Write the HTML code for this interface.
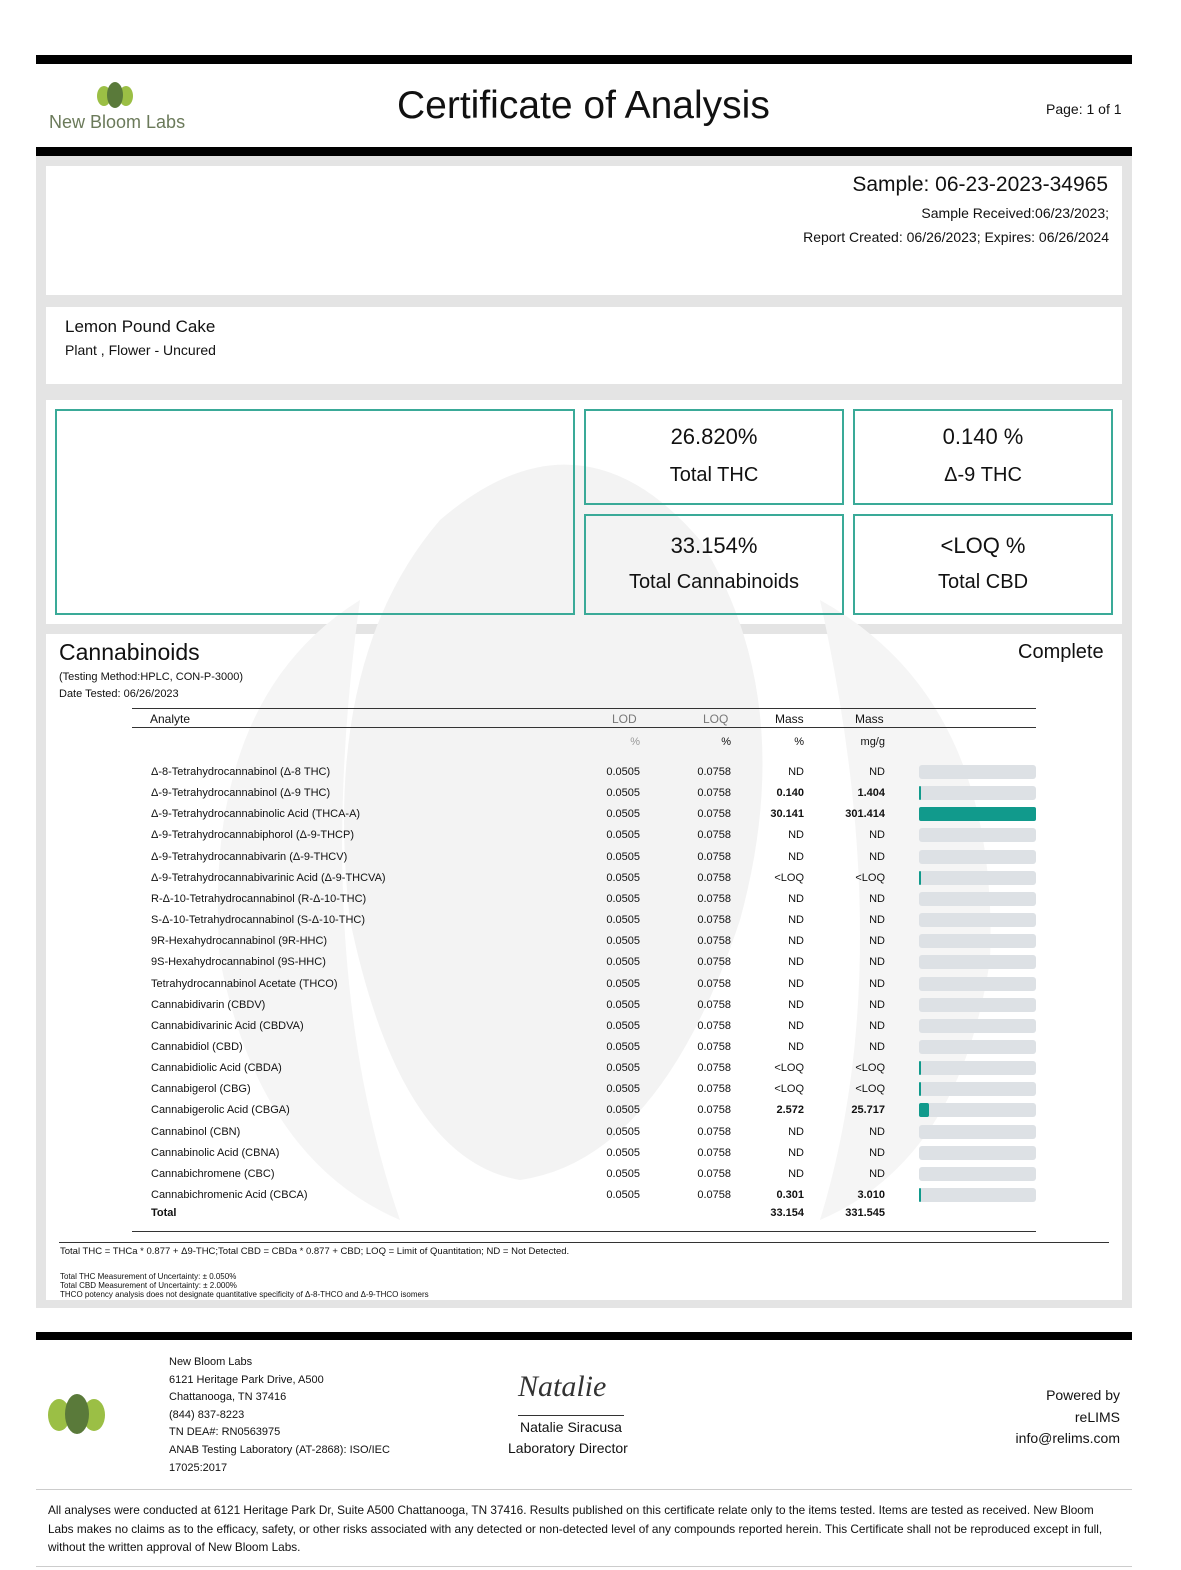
<!DOCTYPE html>
<html><head><meta charset="utf-8"><style>
body{margin:0;width:1181px;height:1570px;background:#fff;font-family:"Liberation Sans",sans-serif;color:#111;position:relative;overflow:hidden}
.a{position:absolute}
.bar{position:absolute;left:36px;width:1096px;background:#000}
.w{position:absolute;background:#fff}
.tb{position:absolute;border:2px solid #3aaa98;background:transparent;text-align:center}
.row{position:absolute;left:0;width:1181px;height:21px;font-size:11px}
.row span{position:absolute;top:0}
.r{text-align:right}
.pb{position:absolute;left:919px;width:117px;height:14px;background:#dde1e5;border-radius:3px}
</style></head><body>
<div class="bar" style="top:55px;height:9px"></div>
<div class="bar" style="top:147px;height:9px"></div>
<svg class="a" style="left:96px;top:82px" width="38" height="28"><ellipse cx="8" cy="14" rx="7" ry="10" fill="#9bbf45"/><ellipse cx="30" cy="14" rx="7" ry="10" fill="#9bbf45"/><ellipse cx="19" cy="13" rx="8" ry="13" fill="#5a7a3a"/></svg>
<div class="a" style="left:49px;top:112px;font-size:18px;color:#6b7a5a">New Bloom Labs</div>
<div class="a" style="left:397px;top:84px;font-size:39px">Certificate of Analysis</div>
<div class="a" style="left:1046px;top:101px;font-size:14px">Page: 1 of 1</div>
<div class="a" style="left:36px;top:156px;width:1096px;height:1152px;background:#e4e4e4"></div>
<div class="w" style="left:46px;top:166px;width:1076px;height:129px"></div>
<div class="w" style="left:46px;top:307px;width:1076px;height:77px"></div>
<div class="w" style="left:46px;top:400px;width:1076px;height:224px"></div>
<div class="w" style="left:46px;top:634px;width:1076px;height:666px"></div>
<svg class="a" style="left:200px;top:400px" width="820" height="900"><path d="M240 120 Q380 0 500 140 Q600 300 540 520 Q460 760 320 780 Q200 760 150 520 Q120 260 240 120Z" fill="#f3f3f3"/><path d="M620 200 Q800 300 790 560 Q760 760 620 820 Q700 560 620 200Z" fill="#f5f5f5"/><path d="M160 200 Q0 300 20 560 Q60 760 200 820 Q110 560 160 200Z" fill="#f5f5f5"/></svg>
<div class="a r" style="right:73px;top:173px;font-size:21px">Sample: 06-23-2023-34965</div>
<div class="a r" style="right:72px;top:205px;font-size:14px">Sample Received:06/23/2023;</div>
<div class="a r" style="right:72px;top:229px;font-size:14px">Report Created: 06/26/2023; Expires: 06/26/2024</div>
<div class="a" style="left:65px;top:317px;font-size:17px">Lemon Pound Cake</div>
<div class="a" style="left:65px;top:342px;font-size:14px">Plant , Flower - Uncured</div>
<div class="tb" style="left:55px;top:409px;width:516px;height:202px"></div>
<div class="tb" style="left:584px;top:409px;width:256px;height:92px"><div style="font-size:22px;margin-top:13px">26.820%</div><div style="font-size:20px;margin-top:14px">Total THC</div></div>
<div class="tb" style="left:853px;top:409px;width:256px;height:92px"><div style="font-size:22px;margin-top:13px">0.140 %</div><div style="font-size:20px;margin-top:14px">Δ-9 THC</div></div>
<div class="tb" style="left:584px;top:514px;width:256px;height:97px"><div style="font-size:22px;margin-top:17px">33.154%</div><div style="font-size:20px;margin-top:12px">Total Cannabinoids</div></div>
<div class="tb" style="left:853px;top:514px;width:256px;height:97px"><div style="font-size:22px;margin-top:17px">&lt;LOQ %</div><div style="font-size:20px;margin-top:12px">Total CBD</div></div>
<div class="a" style="left:59px;top:639px;font-size:23px">Cannabinoids</div>
<div class="a" style="left:1018px;top:641px;font-size:20px">Complete</div>
<div class="a" style="left:59px;top:671px;font-size:11px">(Testing Method:HPLC, CON-P-3000)</div>
<div class="a" style="left:59px;top:688px;font-size:11px">Date Tested: 06/26/2023</div>
<div class="a" style="left:132px;top:708px;width:904px;height:1px;background:#333"></div>
<div class="a" style="left:132px;top:727px;width:904px;height:1px;background:#333"></div>
<div class="row" style="top:712px;font-size:12px"><span style="left:150px">Analyte</span><span style="left:612px;color:#777">LOD</span><span style="left:703px;color:#777">LOQ</span><span style="left:775px">Mass</span><span style="left:855px">Mass</span></div>
<div class="row" style="top:736px"><span style="right:541px;color:#999">%</span><span style="right:450px">%</span><span style="right:377px">%</span><span style="right:296px">mg/g</span></div>
<div id="rows"></div>
<div class="a" style="left:132px;top:1231px;width:904px;height:1px;background:#333"></div>
<div class="a" style="left:59px;top:1242px;width:1050px;height:1px;background:#333"></div>
<div class="a" style="left:60px;top:1246px;font-size:9.5px">Total THC = THCa * 0.877 + Δ9-THC;Total CBD = CBDa * 0.877 + CBD; LOQ = Limit of Quantitation; ND = Not Detected.</div>
<div class="a" style="left:60px;top:1272px;font-size:8px;line-height:9px">Total THC Measurement of Uncertainty: ± 0.050%<br>Total CBD Measurement of Uncertainty: ± 2.000%<br>THCO potency analysis does not designate quantitative specificity of Δ-8-THCO and Δ-9-THCO isomers</div>
<div class="bar" style="top:1332px;height:8px"></div>
<svg class="a" style="left:47px;top:1393px" width="60" height="44"><ellipse cx="12" cy="22" rx="11" ry="16" fill="#9bbf45"/><ellipse cx="47" cy="22" rx="11" ry="16" fill="#9bbf45"/><ellipse cx="30" cy="21" rx="12" ry="20" fill="#5a7a3a"/></svg>
<div class="a" style="left:169px;top:1354px;font-size:11px;line-height:17.6px">New Bloom Labs<br>6121 Heritage Park Drive, A500<br>Chattanooga, TN 37416<br>(844) 837-8223<br>TN DEA#: RN0563975<br>ANAB Testing Laboratory (AT-2868): ISO/IEC<br>17025:2017</div>
<div class="a" style="left:518px;top:1370px;font-size:30px;font-family:'Liberation Serif',serif;font-style:italic;color:#333">Natalie</div>
<div class="a" style="left:518px;top:1415px;width:106px;height:1px;background:#333"></div>
<div class="a" style="left:520px;top:1419px;font-size:14px">Natalie Siracusa</div>
<div class="a" style="left:508px;top:1440px;font-size:14px">Laboratory Director</div>
<div class="a r" style="right:61px;top:1385px;font-size:14px;line-height:21.5px">Powered by<br>reLIMS<br>info@relims.com</div>
<div class="a" style="left:36px;top:1489px;width:1096px;height:1px;background:#ccc"></div>
<div class="a" style="left:48px;top:1501px;width:1066px;font-size:11.8px;line-height:18.5px">All analyses were conducted at 6121 Heritage Park Dr, Suite A500 Chattanooga, TN 37416. Results published on this certificate relate only to the items tested. Items are tested as received. New Bloom Labs makes no claims as to the efficacy, safety, or other risks associated with any detected or non-detected level of any compounds reported herein. This Certificate shall not be reproduced except in full, without the written approval of New Bloom Labs.</div>
<div class="a" style="left:36px;top:1566px;width:1096px;height:1px;background:#ccc"></div>
<script>
var d=[["Δ-8-Tetrahydrocannabinol (Δ-8 THC)","ND","ND",0],["Δ-9-Tetrahydrocannabinol (Δ-9 THC)","0.140","1.404",1],["Δ-9-Tetrahydrocannabinolic Acid (THCA-A)","30.141","301.414",2],["Δ-9-Tetrahydrocannabiphorol (Δ-9-THCP)","ND","ND",0],["Δ-9-Tetrahydrocannabivarin (Δ-9-THCV)","ND","ND",0],["Δ-9-Tetrahydrocannabivarinic Acid (Δ-9-THCVA)","&lt;LOQ","&lt;LOQ",1],["R-Δ-10-Tetrahydrocannabinol (R-Δ-10-THC)","ND","ND",0],["S-Δ-10-Tetrahydrocannabinol (S-Δ-10-THC)","ND","ND",0],["9R-Hexahydrocannabinol (9R-HHC)","ND","ND",0],["9S-Hexahydrocannabinol (9S-HHC)","ND","ND",0],["Tetrahydrocannabinol Acetate (THCO)","ND","ND",0],["Cannabidivarin (CBDV)","ND","ND",0],["Cannabidivarinic Acid (CBDVA)","ND","ND",0],["Cannabidiol (CBD)","ND","ND",0],["Cannabidiolic Acid (CBDA)","&lt;LOQ","&lt;LOQ",1],["Cannabigerol (CBG)","&lt;LOQ","&lt;LOQ",1],["Cannabigerolic Acid (CBGA)","2.572","25.717",3],["Cannabinol (CBN)","ND","ND",0],["Cannabinolic Acid (CBNA)","ND","ND",0],["Cannabichromene (CBC)","ND","ND",0],["Cannabichromenic Acid (CBCA)","0.301","3.010",1]];
var h="";d.forEach(function(r,i){var t=766+i*21.15;var b=/\d/.test(r[1])?"font-weight:bold;":"";
h+='<div class="row" style="top:'+t+'px"><span style="left:151px">'+r[0]+'</span><span style="right:541px">0.0505</span><span style="right:450px">0.0758</span><span style="right:377px;'+b+'">'+r[1]+'</span><span style="right:296px;'+b+'">'+r[2]+'</span></div>';
var w=r[3]==2?117:r[3]==3?10:r[3]==1?2:0;
h+='<div class="pb" style="top:'+(t-1)+'px"></div>';
if(w)h+='<div class="a" style="left:919px;top:'+(t-1)+'px;width:'+w+'px;height:14px;background:#119a8c;border-radius:2px"></div>';});
h+='<div class="row" style="top:1207px;font-weight:bold"><span style="left:151px">Total</span><span style="right:377px">33.154</span><span style="right:296px">331.545</span></div>';
document.getElementById("rows").innerHTML=h;
</script>
</body></html>
